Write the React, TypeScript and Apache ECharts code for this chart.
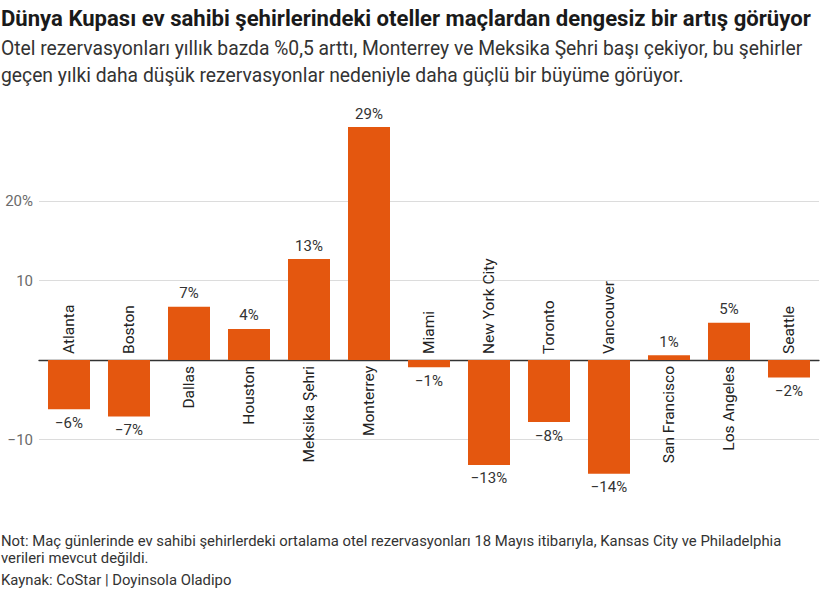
import React, { useEffect, useRef } from "react";
import * as echarts from "echarts";

const categories = [
  "Atlanta", "Boston", "Dallas", "Houston", "Meksika Şehri", "Monterrey", "Miami",
  "New York City", "Toronto", "Vancouver", "San Francisco", "Los Angeles", "Seattle",
];
const values = [-6.2, -7.1, 6.7, 3.9, 12.7, 29.3, -0.9, -13.2, -7.8, -14.3, 0.6, 4.7, -2.2];
const yTickLabels: Record<string, string> = { "20": "20%", "10": "10", "-10": "\u221210" };

const title = "Dünya Kupası ev sahibi şehirlerindeki oteller maçlardan dengesiz bir artış görüyor";
const subtitle = [
  "Otel rezervasyonları yıllık bazda %0,5 arttı, Monterrey ve Meksika Şehri başı çekiyor, bu şehirler",
  "geçen yılki daha düşük rezervasyonlar nedeniyle daha güçlü bir büyüme görüyor.",
];
const notes = [
  "Not: Maç günlerinde ev sahibi şehirlerdeki ortalama otel rezervasyonları 18 Mayıs itibarıyla, Kansas City ve Philadelphia",
  "verileri mevcut değildi.",
];
const source = "Kaynak: CoStar | Doyinsola Oladipo";

const FONT = "Roboto, 'Noto Sans', sans-serif";
const BAR = "#e4570f";

function fmtPct(v: number): string {
  const r = Math.round(v);
  return (r < 0 ? "\u2212" + Math.abs(r) : String(r)) + "%";
}

export default function App() {
  const ref = useRef<HTMLDivElement>(null);
  useEffect(() => {
    if (!ref.current) return;
    const chart = echarts.init(ref.current, null, { renderer: "svg" });
    const textEl = (text: string, x: number, y: number, size: number, weight: string, color: string) => ({
      type: "text",
      x,
      y,
      style: {
        text,
        fontSize: size,
        fontWeight: weight,
        fontFamily: FONT,
        fill: color,
        align: "left",
        verticalAlign: "middle",
      },
    });
    chart.setOption({
      animation: false,
      backgroundColor: "#ffffff",
      textStyle: { fontFamily: FONT },
      grid: { left: 39, right: 1, top: 121.5, bottom: 71, containLabel: false },
      xAxis: {
        type: "category",
        data: categories,
        axisLine: { onZero: true, lineStyle: { color: "#333", width: 1.3 } },
        axisTick: { show: false },
        axisLabel: { show: false },
        splitLine: { show: false },
      },
      yAxis: {
        type: "value",
        min: -20,
        max: 30,
        interval: 10,
        axisLine: { show: false },
        axisTick: { show: false },
        axisLabel: {
          showMinLabel: false,
          showMaxLabel: false,
          margin: 6,
          color: "#6b6b6b",
          fontSize: 15,
          fontFamily: FONT,
          formatter: (v: number) => yTickLabels[String(v)] ?? "",
        },
        splitLine: {
          show: true,
          showMinLine: false,
          showMaxLine: false,
          lineStyle: { color: "#dcdcdc", width: 1 },
        },
      },
      series: [
        {
          type: "bar",
          data: values,
          barWidth: 42,
          itemStyle: { color: BAR },
          label: {
            show: true,
            position: "outside",
            distance: 6,
            color: "#333",
            fontSize: 15,
            fontFamily: FONT,
            formatter: (p: any) => fmtPct(p.value),
          },
          z: 2,
        },
        {
          type: "custom",
          data: categories.map((_, i) => [i, 0]),
          encode: { x: 0, y: 1 },
          clip: false,
          z: 5,
          renderItem: (params: any, api: any) => {
            const i = api.value(0);
            const v = values[i];
            const p = api.coord([i, 0]);
            const above = v < 0;
            return {
              type: "text",
              x: p[0],
              y: above ? p[1] - 6 : p[1] + 6,
              rotation: Math.PI / 2,
              style: {
                text: categories[i],
                fontSize: 15.5,
                fontFamily: FONT,
                fill: "#222",
                align: above ? "left" : "right",
                verticalAlign: "middle",
              },
            };
          },
        },
      ],
      graphic: [
        textEl(title, 1, 18, 22.1, "bold", "#1a1a1a"),
        textEl(subtitle[0], 1, 48, 19.3, "normal", "#333"),
        textEl(subtitle[1], 1, 75, 19.3, "normal", "#333"),
        textEl(notes[0], 1, 541, 14.85, "normal", "#333"),
        textEl(notes[1], 1, 558, 14.85, "normal", "#333"),
        textEl(source, 1, 580, 14.85, "normal", "#333"),
      ],
    });
    return () => chart.dispose();
  }, []);
  return (
    <div
      ref={ref}
      style={{ position: "absolute", left: 0, top: 0, width: 820, height: 590, background: "#fff" }}
    />
  );
}
